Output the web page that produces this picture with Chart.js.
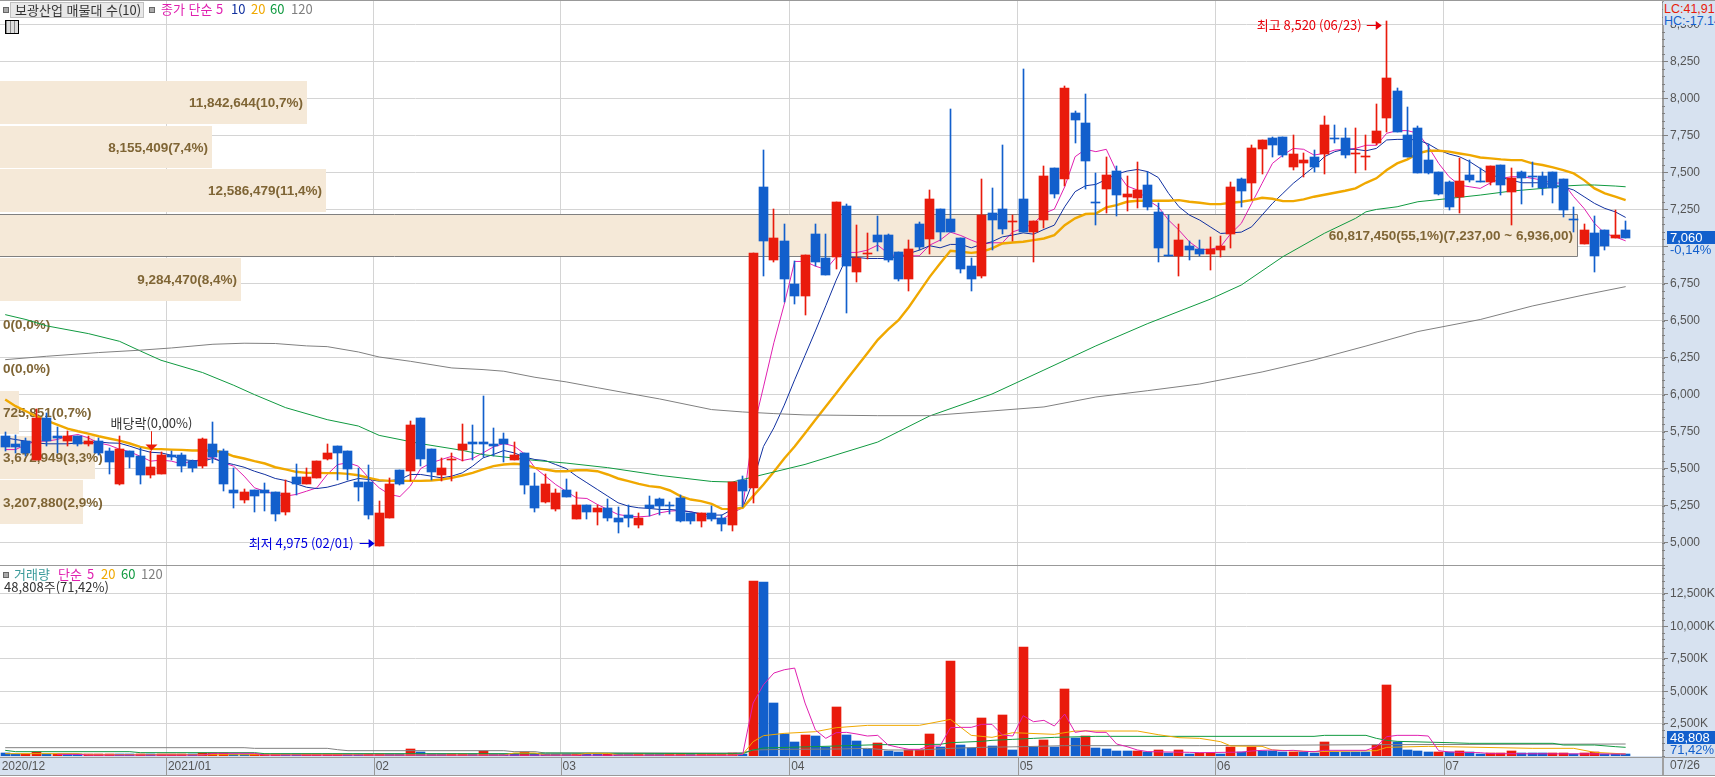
<!DOCTYPE html>
<html lang="ko">
<head>
<meta charset="utf-8">
<title>보광산업</title>
<script src="https://cdn.jsdelivr.net/npm/chart.js@4"></script>
<style>
html, body { margin: 0; padding: 0; background: #fff; overflow: hidden; width: 1715px; height: 777px; }
canvas { position: absolute; left: 0; }
#priceChart { top: 0; }
#volChart { top: 566px; }
.t { position: absolute; white-space: pre; font: 13px "Noto Sans CJK KR", sans-serif; line-height: 14px; }
.sq { position: absolute; width: 4px; height: 4px; background: #aaa; border: 1px solid #666; }
#stockName { left: 10px; top: 2px; height: 14px; background: #e8e8e8; border: 1px solid #c0c0c0; color: #333; padding-left: 4px; width: 128px; }
#gridIcon { position: absolute; left: 5px; top: 20px; width: 12px; height: 12px; border: 1px solid #000;
  background: repeating-linear-gradient(90deg, #888 0 1px, #ddd 1px 4px), #ddd; }
#hiLo { position: absolute; left: 1663px; top: 2px; width: 52px; height: 23px; background: #d7e2f0; overflow: hidden; }
#hiLo div { position: absolute; left: 1px; font: 12.5px "Liberation Sans", sans-serif; line-height: 12px; white-space: pre; }
</style>
</head>
<body>
<canvas id="priceChart" width="1715" height="566"></canvas>
<canvas id="volChart" width="1715" height="211"></canvas>

<div class="sq" style="left:3px;top:7px"></div>
<div class="t" id="stockName">보광산업 매물대 수(10)</div>
<div class="sq" style="left:149px;top:7px"></div>
<div class="t" style="left:161px;top:2px;color:#e020b0">종가 단순</div>
<div class="t" style="left:216px;top:2px;color:#e020b0">5</div>
<div class="t" style="left:231px;top:2px;color:#1030a0">10</div>
<div class="t" style="left:251px;top:2px;color:#f0a800">20</div>
<div class="t" style="left:270px;top:2px;color:#109a40">60</div>
<div class="t" style="left:291px;top:2px;color:#808080">120</div>
<div id="gridIcon"></div>

<div id="hiLo">
  <div style="top:1px;color:#e81c0a">LC:41,91</div>
  <div style="top:13px;color:#1460cc">HC:-17,14</div>
</div>

<div class="sq" style="left:3px;top:572px"></div>
<div class="t" style="left:14px;top:567px;color:#3a9a9a">거래량</div>
<div class="t" style="left:58px;top:567px;color:#e020b0">단순</div>
<div class="t" style="left:87px;top:567px;color:#e020b0">5</div>
<div class="t" style="left:101px;top:567px;color:#f0a800">20</div>
<div class="t" style="left:121px;top:567px;color:#109a40">60</div>
<div class="t" style="left:141px;top:567px;color:#808080">120</div>
<div class="t" style="left:4px;top:580px;color:#333">48,808주(71,42%)</div>

<script>
const RED = '#e91b0c';
const BLUE = '#125fcc';
const GRID = '#d4d4d4';
const STRIP = '#d7e2f0';
const AXIS_FONT = { family: '"Liberation Sans", sans-serif', size: 12 };

// Slots on the time axis, a few stay empty on the right of the last candle
const slots = Array.from({ length: 160 }, (_, i) => i);
const monthStarts = [0, 16, 36, 54, 76, 98, 117, 139];
const monthLabels = ['2020/12', '2021/01', '02', '03', '04', '05', '06', '07'];
const lastDateLabel = '07/26';
const priceTicks = [5000,5250,5500,5750,6000,6250,6500,6750,7000,7250,7500,7750,8000,8250,8500];
const volumeTicks = [2500,5000,7500,10000,12500];

const opens = [
  5720,5670,5690,5560,5845,5720,5685,5720,5670,5690,
  5620,5395,5620,5585,5455,5465,5590,5590,5550,5520,
  5670,5620,5355,5290,5355,5355,5340,5205,5445,5395,
  5440,5565,5650,5620,5410,5410,4975,5170,5490,5485,
  5840,5630,5455,5560,5625,5680,5680,5670,5700,5560,
  5605,5380,5275,5225,5355,5160,5255,5205,5235,5165,
  5185,5120,5255,5295,5255,5300,5200,5145,5200,5165,
  5120,5425,5370,7400,6910,7035,6750,6665,7085,6920,
  6930,7275,6825,6950,7075,7075,6960,6780,7150,7050,
  7250,7185,7055,6865,6800,7225,7250,7165,7320,7095,
  7180,7530,7455,7900,7835,7300,7390,7510,7335,7325,
  7415,7230,6940,6935,7000,6980,6950,6975,7085,7455,
  7430,7660,7730,7740,7535,7565,7605,7625,7730,7730,
  7625,7605,7700,7865,8050,7750,7800,7585,7500,7435,
  7335,7480,7440,7435,7550,7365,7500,7475,7475,7500,
  7455,7185,7015,7090,7110,7055,7110
];
const highs = [
  5750,5730,5710,5905,5875,5780,5755,5720,5720,5710,
  5640,5720,5620,5640,5620,5610,5620,5605,5560,5710,
  5815,5630,5505,5360,5355,5405,5340,5425,5530,5505,
  5550,5670,5650,5620,5505,5525,5280,5440,5490,5825,
  5840,5630,5570,5605,5800,5795,5990,5775,5740,5680,
  5605,5470,5465,5360,5430,5340,5255,5255,5295,5240,
  5255,5200,5315,5300,5275,5320,5200,5200,5245,5185,
  5410,5450,6955,7650,7250,7150,6900,6940,7150,7085,
  7300,7285,7145,7090,7205,7085,6960,7045,7165,7380,
  7250,7930,7055,6920,7455,7395,7685,7210,8200,7170,
  7545,7530,8085,7915,8030,7495,7605,7545,7475,7570,
  7500,7295,7210,7150,7035,7045,7065,7070,7435,7460,
  7685,7720,7740,7740,7750,7630,7650,7880,7820,7800,
  7800,7750,7960,8520,8070,7940,7815,7690,7500,7440,
  7595,7585,7530,7545,7550,7530,7510,7570,7500,7500,
  7455,7265,7150,7205,7110,7245,7170
];
const lows = [
  5620,5605,5585,5560,5650,5605,5650,5650,5650,5590,
  5465,5390,5505,5400,5440,5465,5560,5480,5480,5505,
  5540,5350,5235,5270,5210,5215,5145,5185,5325,5395,
  5440,5560,5425,5425,5280,5160,4975,5170,5390,5415,
  5515,5425,5415,5420,5555,5560,5580,5585,5545,5560,
  5330,5205,5270,5215,5310,5160,5160,5120,5145,5065,
  5105,5100,5180,5185,5195,5140,5125,5105,5145,5080,
  5080,5240,5270,6800,6895,6625,6610,6535,6870,6805,
  6845,6550,6760,6915,6970,6895,6765,6700,6975,6950,
  7035,7095,6820,6700,6785,6975,7085,7035,7095,6895,
  7125,7325,7410,7700,7390,7145,7225,7205,7240,7260,
  7245,6895,6935,6800,6910,6935,6840,6930,6990,7265,
  7315,7490,7605,7605,7515,7470,7500,7490,7700,7595,
  7495,7515,7685,7775,7775,7605,7495,7490,7345,7245,
  7225,7435,7435,7415,7345,7145,7285,7400,7345,7295,
  7200,7095,7015,6825,6975,7055,7060
];
const closes = [
  5645,5645,5605,5845,5690,5705,5720,5670,5690,5605,
  5545,5630,5580,5455,5510,5590,5580,5520,5505,5700,
  5580,5400,5335,5340,5315,5335,5195,5335,5400,5445,
  5550,5605,5605,5500,5375,5185,5200,5395,5395,5795,
  5565,5480,5505,5565,5670,5665,5665,5650,5670,5590,
  5390,5235,5400,5335,5310,5255,5205,5235,5165,5140,
  5165,5165,5235,5245,5245,5145,5145,5200,5160,5125,
  5410,5350,6955,7035,7055,6780,6665,6940,6895,6805,
  7300,6865,6920,6955,7030,6910,6780,6980,6995,7320,
  7095,7095,6845,6780,7210,7180,7115,7170,7095,7170,
  7475,7355,8070,7855,7575,7295,7480,7345,7355,7380,
  7265,6990,6935,7045,6975,6950,6980,7000,7400,7375,
  7665,7720,7685,7615,7625,7585,7535,7820,7725,7615,
  7630,7610,7780,8135,7775,7605,7495,7495,7355,7265,
  7440,7450,7435,7545,7415,7460,7460,7470,7395,7395,
  7245,7180,7110,6935,7000,7075,7060
];

const ma5 = [
  5629,5629,5663,5686,5686,5697,5719,5731,5708,5674,
  5659,5632,5614,5584,5551,5558,5551,5533,5551,5562,
  5578,5540,5517,5450,5371,5348,5326,5315,5326,5348,
  5371,5461,5528,5540,5517,5438,5371,5326,5312,5382,
  5501,5540,5562,5584,5555,5569,5607,5647,5670,5652,
  5600,5506,5450,5393,5348,5303,5299,5259,5225,5191,
  5180,5175,5180,5202,5214,5218,5209,5191,5169,5157,
  5202,5236,5759,6052,6350,6610,6899,6899,6867,6845,
  6928,6960,6960,6975,7009,6953,6930,6937,6937,7009,
  7043,7097,7074,7043,7016,7025,7025,7099,7122,7156,
  7223,7252,7403,7606,7656,7640,7656,7505,7408,7381,
  7313,7268,7178,7110,7032,6980,6980,6998,7088,7156,
  7291,7426,7561,7617,7662,7656,7617,7629,7651,7656,
  7662,7683,7683,7764,7782,7782,7764,7674,7561,7471,
  7414,7403,7392,7430,7460,7471,7471,7460,7448,7426,
  7430,7336,7257,7156,7088,7065,7038
];
const ma10 = [
  5708,5697,5686,5674,5668,5668,5668,5674,5674,5681,
  5674,5672,5652,5629,5611,5607,5591,5562,5555,5551,
  5569,5544,5528,5510,5483,5461,5434,5420,5398,5375,
  5366,5375,5393,5416,5434,5427,5416,5420,5427,5461,
  5461,5450,5438,5450,5472,5517,5573,5596,5623,5607,
  5578,5562,5555,5528,5501,5450,5405,5360,5315,5270,
  5247,5236,5232,5225,5225,5218,5209,5196,5187,5187,
  5225,5236,5416,5650,5776,5929,6100,6265,6430,6600,
  6773,6926,6926,6919,6919,6919,6930,6953,6975,7005,
  6991,7014,7014,6991,7014,7032,7065,7077,7092,7083,
  7115,7144,7268,7370,7410,7419,7453,7489,7509,7520,
  7505,7466,7358,7268,7212,7178,7133,7088,7092,7097,
  7133,7212,7291,7358,7426,7482,7538,7606,7640,7656,
  7656,7646,7662,7719,7723,7723,7719,7692,7651,7624,
  7606,7572,7527,7482,7466,7448,7430,7430,7430,7414,
  7403,7381,7336,7291,7257,7234,7196
];
const ma20 = [
  5967,5922,5888,5854,5825,5798,5771,5753,5737,5719,
  5704,5690,5670,5647,5634,5632,5629,5627,5623,5623,
  5623,5611,5584,5569,5551,5535,5510,5495,5479,5472,
  5472,5470,5470,5465,5456,5438,5423,5418,5418,5418,
  5418,5420,5427,5438,5454,5472,5495,5517,5528,5533,
  5528,5506,5495,5483,5483,5490,5490,5483,5461,5434,
  5416,5398,5382,5375,5353,5315,5292,5281,5263,5229,
  5227,5236,5315,5393,5479,5569,5650,5740,5830,5920,
  6010,6100,6190,6280,6370,6440,6502,6592,6694,6795,
  6885,6971,6964,6957,6964,6987,7020,7027,7032,7043,
  7054,7077,7144,7190,7219,7223,7264,7279,7302,7309,
  7309,7309,7309,7313,7302,7295,7286,7286,7295,7302,
  7313,7329,7322,7306,7306,7318,7336,7349,7363,7376,
  7392,7430,7460,7516,7561,7588,7628,7646,7646,7640,
  7628,7617,7601,7595,7588,7583,7583,7561,7550,7534,
  7516,7493,7448,7392,7358,7336,7313
];
const ma60Days = [1,3,5,9,12,14,16,20,23,25,28,32,35,37,41,45,47,52,55,59,64,69,71,73,78,85,90,96,101,106,111,117,120,124,128,131,132,133,135,137,140,143,146,149,151,153,154,156,157];
const ma60 = [6540,6507,6464,6412,6360,6295,6232,6149,6063,6000,5912,5831,5788,5725,5669,5624,5595,5556,5538,5507,5455,5414,5410,5444,5529,5680,5856,6004,6166,6329,6480,6644,6740,6931,7089,7190,7234,7250,7268,7302,7324,7347,7374,7392,7408,7415,7415,7408,7403];
const ma120Days = [1,5,10,14,17,21,24,27,30,32,35,37,40,44,47,49,52,55,58,62,64,69,72,75,78,85,90,96,101,106,111,116,122,127,132,137,143,148,153,157];
const ma120 = [6236,6259,6284,6300,6315,6340,6347,6345,6329,6324,6288,6254,6225,6180,6169,6158,6117,6086,6047,5996,5971,5899,5883,5872,5863,5858,5858,5890,5917,5984,6027,6072,6153,6234,6328,6426,6507,6598,6673,6729];

const volumes = [
  205,130,140,310,130,150,110,100,110,115,
  120,100,95,110,100,110,115,120,100,230,
  240,250,120,110,120,125,130,110,100,110,
  115,120,125,110,100,150,160,100,95,514,
  283,150,140,160,165,100,385,150,140,120,
  308,150,140,130,100,110,100,95,110,90,
  85,95,90,85,95,100,90,95,100,105,
  205,130,13490,13415,4086,1722,1079,1619,1542,720,
  3778,1619,1156,540,1002,385,308,462,470,1696,
  694,7325,848,617,2930,771,3161,463,8404,694,
  1234,694,5166,1388,1542,617,540,385,375,400,
  308,462,231,462,154,200,230,190,694,283,
  694,385,375,308,320,308,231,1079,308,300,
  295,290,848,5474,1079,462,385,308,320,308,
  385,308,154,231,240,385,231,220,210,240,
  250,128,231,308,154,120,48.808
];
const volMa5Days = [6,8,9,20,21,25,26,71,72,73,74,75,76,77,78,79,80,81,82,83,84,85,86,87,88,89,90,91,92,93,94,95,96,97,98,99,100,101,102,103,104,105,106,107,108,109,110,111,115,116,120,121,122,123,124,125,126,127,128,132,133,134,135,137,138,139,140,141,143,144,157];
const volMa5 = [129,129,70,70,205,205,70,60,128,4086,5500,6400,6656,6785,4086,2005,1362,1799,1825,1696,1542,1593,848,668,514,514,771,771,2184,2210,2210,2441,2441,1619,1542,3110,2647,2750,2313,3238,1825,1953,1825,1825,925,720,463,334,283,257,300,385,437,462,411,437,360,334,437,437,720,1490,1593,1593,1542,411,308,283,257,180,154];
const volMa20Days = [1,8,9,35,36,49,50,52,53,56,57,59,60,71,72,73,74,76,79,81,84,89,92,94,96,98,102,104,110,112,114,116,118,119,122,123,127,133,134,138,148,152,154,157];
const volMa20 = [180,180,100,100,77,77,231,231,77,77,205,205,77,77,128,1105,1568,1747,1876,2184,2364,2364,2827,1593,1439,1799,1670,1927,1927,1645,1413,1362,1105,771,745,463,334,411,668,745,591,591,283,154];
const volMa60Days = [1,2,13,14,25,26,52,53,71,72,73,74,81,85,91,92,95,96,98,100,102,106,127,128,132,133,134,135,140,142,150,151,154,156,157];
const volMa60 = [437,334,334,257,257,180,180,231,180,180,463,617,771,874,900,1028,1130,1208,1285,1362,1439,1516,1516,1593,1593,1362,1208,1130,1028,977,977,848,848,720,668];
const volMa120Days = [1,24,25,32,33,34,49,50,52,53,71,72,73,76,81,84,86,89,92,95,99,103,116,133,157];
const volMa120 = [642,642,591,591,488,411,411,334,334,231,231,257,463,514,540,591,463,463,591,668,720,797,797,874,925];

// Volume profile bands, price range and traded volume of each
const profileHigh = [8117,7814,7524,7216,6923,6620,6322,6023,5721,5424];
const profileLow = [7828,7529,7230,6933,6632,6334,6035,5732,5431,5127];
const profileVol = [11842644,8155409,12586479,60817450,9284470,0,0,725851,3672949,3207880];
const profileText = ['11,842,644(10,7%)','8,155,409(7,4%)','12,586,479(11,4%)','60,817,450(55,1%)(7,237,00 ~ 6,936,00)','9,284,470(8,4%)','0(0,0%)','0(0,0%)','725,851(0,7%)','3,672,949(3,3%)','3,207,880(2,9%)'];

const priceLast = 7060;
const volumeBoxLevel = 1466; // the 48,808 box is held above the bars, readable

const sparse = (days, vals) => {
  const s = new Array(opens.length).fill(null);
  days.forEach((d, n) => { s[d - 1] = vals[n]; });
  return s;
};

const lineSet = (data, color, width) => ({
  type: 'line', data, borderColor: color, borderWidth: width, pointRadius: 0,
  tension: 0, spanGaps: true, order: 2
});

const monthGrid = ctx => (ctx.index > 0 && monthStarts.includes(ctx.index)) ? GRID : 'rgba(0,0,0,0)';

// Labels at the scale ends must not shrink the plot
const noPadding = s => {
  s.paddingTop = 0;
  s.paddingBottom = 0;
  s.paddingLeft = 0;
  s.paddingRight = 0;
};

// Put bars on whole pixels, the original is a bitmap chart without smoothing
const snapBars = {
  id: 'snapBars',
  afterDatasetsUpdate(chart) {
    chart.data.datasets.forEach((ds, i) => {
      if (ds.type === 'line') return;
      chart.getDatasetMeta(i).data.forEach(el => {
        el.x = Math.round(el.x - 0.5) + 0.5;
        el.y = Math.round(el.y);
        el.base = Math.round(el.base);
        if (el.y === el.base) el.base += 1;
      });
    });
  }
};

const minorTicks = (scale, step, ctx) => {
  ctx.strokeStyle = '#808080';
  ctx.lineWidth = 1;
  ctx.beginPath();
  for (let v = Math.ceil(scale.min / step) * step; v <= scale.max; v += step) {
    const y = Math.round(scale.getPixelForValue(v)) + 0.5;
    ctx.moveTo(scale.left, y);
    ctx.lineTo(scale.left + 3, y);
  }
  ctx.stroke();
};

const arrowHead = (ctx, x, y, size, color) => {
  ctx.fillStyle = color;
  ctx.beginPath();
  ctx.moveTo(x, y);
  ctx.lineTo(x - size, y - size * 0.75);
  ctx.lineTo(x - size, y + size * 0.75);
  ctx.closePath();
  ctx.fill();
};

const priceFrame = {
  id: 'priceFrame',
  beforeDraw(chart) {
    const { ctx, chartArea: a, width, height } = chart;
    ctx.fillStyle = STRIP;
    ctx.fillRect(a.right, 0, width - a.right, height);
  },
  // Bands sit under the candles and the moving averages
  beforeDatasetsDraw(chart) {
    const { ctx, chartArea: a, scales } = chart;
    const y = scales.y;
    const perShare = a.width * 0.949 / Math.max(...profileVol);
    ctx.save();
    ctx.font = 'bold 13.5px "Liberation Sans", sans-serif';
    ctx.textBaseline = 'middle';
    profileVol.forEach((vol, i) => {
      const top = Math.round(y.getPixelForValue(profileHigh[i]));
      const bottom = Math.round(y.getPixelForValue(profileLow[i]));
      const w = Math.round(vol * perShare);
      if (w > 0) {
        ctx.fillStyle = '#f5e9d8';
        ctx.fillRect(a.left, top, w, bottom - top);
      }
      if (vol === Math.max(...profileVol)) {
        ctx.strokeStyle = '#808080';
        ctx.lineWidth = 1;
        ctx.beginPath();
        ctx.moveTo(a.left, top + 0.5);
        ctx.lineTo(w + 0.5, top + 0.5);
        ctx.lineTo(w + 0.5, bottom + 0.5);
        ctx.lineTo(a.left, bottom + 0.5);
        ctx.stroke();
      }
      const tw = ctx.measureText(profileText[i]).width;
      ctx.fillStyle = '#7f6535';
      ctx.textAlign = 'left';
      ctx.fillText(profileText[i], tw + 8 < w ? w - tw - 4 : 3, (top + bottom) / 2 + 1);
    });
    ctx.restore();
  },
  afterDatasetsDraw(chart) {
    const { ctx, scales: { x, y } } = chart;
    ctx.save();
    ctx.font = '13px "Noto Sans CJK KR", sans-serif';
    ctx.textBaseline = 'middle';

    // highest price marker
    const hiX = x.getPixelForValue(highs.indexOf(Math.max(...highs))) - 5;
    const hiY = Math.round(y.getPixelForValue(8520)) + 4;
    ctx.fillStyle = '#e8000a';
    ctx.textAlign = 'right';
    ctx.fillText('최고 8,520 (06/23)', hiX - 20, hiY);
    ctx.fillRect(hiX - 15, hiY, 11, 1);
    arrowHead(ctx, hiX, hiY + 0.5, 6, '#e8000a');

    // lowest price marker
    const loX = x.getPixelForValue(lows.indexOf(Math.min(...lows))) - 4.5;
    const loY = Math.round(y.getPixelForValue(4975)) - 3;
    ctx.fillStyle = '#0000e0';
    ctx.fillText('최저 4,975 (02/01)', loX - 21, loY);
    ctx.fillRect(loX - 15, loY, 11, 1);
    arrowHead(ctx, loX, loY + 0.5, 6, '#0000e0');

    // ex-dividend marker
    const exX = Math.round(x.getPixelForValue(14)) + 0.5;
    const exTop = y.getPixelForValue(5753);
    const exTip = y.getPixelForValue(5623);
    ctx.fillStyle = '#333';
    ctx.textAlign = 'center';
    ctx.fillText('배당락(0,00%)', exX, exTop - 8);
    ctx.fillStyle = '#e81c0a';
    ctx.fillRect(exX - 0.5, exTop, 1, exTip - exTop);
    ctx.beginPath();
    ctx.moveTo(exX, exTip);
    ctx.lineTo(exX - 6, exTip - 6);
    ctx.lineTo(exX + 6, exTip - 6);
    ctx.closePath();
    ctx.fill();
    ctx.restore();
  },
  afterDraw(chart) {
    const { ctx, chartArea: a, scales: { y }, width, height } = chart;
    ctx.save();
    ctx.fillStyle = '#999';
    ctx.fillRect(0, 0, width, 1);
    ctx.fillRect(0, height - 1, a.right, 1);
    ctx.fillStyle = '#a0a0a0';
    ctx.fillRect(a.right, 0, 2, height);
    minorTicks(y, 50, ctx);

    const py = Math.round(y.getPixelForValue(priceLast));
    ctx.fillStyle = BLUE;
    ctx.fillRect(a.right + 5, py - 7, width - a.right - 5, 13);
    ctx.font = `13px ${AXIS_FONT.family}`;
    ctx.textBaseline = 'middle';
    ctx.fillStyle = '#fff';
    ctx.fillText(priceLast.toLocaleString('en-US'), a.right + 8, py);
    ctx.fillStyle = BLUE;
    ctx.fillText('-0,14%', a.right + 8, py + 12);
    ctx.restore();
  }
};

const volFrame = {
  id: 'volFrame',
  beforeDraw(chart) {
    const { ctx, chartArea: a, width, height } = chart;
    ctx.fillStyle = STRIP;
    ctx.fillRect(a.right, 0, width - a.right, height);
    ctx.fillRect(0, a.bottom, width, height - a.bottom);
    ctx.fillStyle = '#fff';
    ctx.fillRect(0, height - 2, width, 2);
  },
  afterDraw(chart) {
    const { ctx, chartArea: a, scales: { x, y }, width, height } = chart;
    ctx.save();
    ctx.fillStyle = '#999';
    ctx.fillRect(0, a.bottom + 1, width, 1);
    ctx.fillRect(0, height - 2, width, 1);
    monthStarts.forEach(m => {
      if (m > 0) ctx.fillRect(Math.round(x.getPixelForValue(m) - x.width / slots.length / 2), a.bottom + 1, 1, height - a.bottom - 3);
    });
    ctx.fillStyle = '#a0a0a0';
    ctx.fillRect(a.right, 0, 2, height - 2);
    minorTicks(y, 500, ctx);

    const py = Math.round(y.getPixelForValue(volumeBoxLevel));
    ctx.fillStyle = BLUE;
    ctx.fillRect(a.right + 5, py - 6, width - a.right - 5, 13);
    ctx.font = `13px ${AXIS_FONT.family}`;
    ctx.textBaseline = 'middle';
    ctx.fillStyle = '#fff';
    ctx.fillText('48,808', a.right + 8, py + 1);
    ctx.fillStyle = BLUE;
    ctx.fillText('71,42%', a.right + 8, py + 13);
    ctx.font = `${AXIS_FONT.size}px ${AXIS_FONT.family}`;
    ctx.fillStyle = '#555';
    ctx.fillText(lastDateLabel, a.right + 8, a.bottom + 10);
    ctx.restore();
  }
};

new Chart(document.getElementById('priceChart'), {
  type: 'bar',
  data: {
    labels: slots,
    datasets: [
      lineSet(sparse(ma120Days, ma120), '#808080', 1),
      lineSet(sparse(ma60Days, ma60), '#109a40', 1),
      lineSet(ma20, '#f0a800', 2.4),
      lineSet(ma10, '#1030a0', 1),
      lineSet(ma5, '#e020b0', 1),
      {
        data: opens.map((o, i) => [lows[i], highs[i]]),
        backgroundColor: opens.map((o, i) => closes[i] >= o ? RED : BLUE),
        barThickness: 1, grouped: false, order: 1
      },
      {
        data: opens.map((o, i) => [o, closes[i]]),
        backgroundColor: opens.map((o, i) => closes[i] >= o ? RED : BLUE),
        barThickness: 9, minBarLength: 1, grouped: false, order: 0
      }
    ]
  },
  options: {
    responsive: false, animation: false, events: [], devicePixelRatio: 1,
    layout: { padding: { top: 1, bottom: 1, left: 0, right: 0 } },
    plugins: { legend: { display: false }, tooltip: { enabled: false } },
    scales: {
      x: {
        type: 'category', offset: true,
        afterFit: s => { s.height = 0; noPadding(s); },
        ticks: { display: false, autoSkip: false },
        grid: { color: monthGrid, offset: true, drawTicks: false },
        border: { display: false }
      },
      y: {
        position: 'right', min: 4850, max: 8657,
        afterBuildTicks: s => { s.ticks = priceTicks.map(value => ({ value })); },
        afterFit: s => { s.width = 53; noPadding(s); },
        ticks: {
          padding: 2, color: '#555', font: AXIS_FONT,
          callback: v => v === 7000 ? '' : v.toLocaleString('en-US')
        },
        grid: { color: GRID, tickLength: 6, tickColor: '#808080' },
        border: { display: false }
      }
    }
  },
  plugins: [snapBars, priceFrame]
});

new Chart(document.getElementById('volChart'), {
  type: 'bar',
  data: {
    labels: slots,
    datasets: [
      {
        data: volumes,
        // red when volume rose on the previous day, blue otherwise
        backgroundColor: volumes.map((v, i) => (i > 0 && v > volumes[i - 1]) ? RED : BLUE),
        barThickness: 9, minBarLength: 2, order: 3
      },
      Object.assign(lineSet(sparse(volMa120Days, volMa120), '#808080', 1), { order: 2 }),
      Object.assign(lineSet(sparse(volMa60Days, volMa60), '#109a40', 1), { order: 1.5 }),
      Object.assign(lineSet(sparse(volMa20Days, volMa20), '#f0a800', 1), { order: 1 }),
      Object.assign(lineSet(sparse(volMa5Days, volMa5), '#e020b0', 1), { order: 0.5 })
    ]
  },
  options: {
    responsive: false, animation: false, events: [], devicePixelRatio: 1,
    layout: { padding: 0 },
    plugins: { legend: { display: false }, tooltip: { enabled: false } },
    scales: {
      x: {
        type: 'category', offset: true,
        afterFit: s => { s.height = 21; noPadding(s); },
        ticks: {
          autoSkip: false, maxRotation: 0, minRotation: 0, align: 'start', padding: 3,
          labelOffset: -3.5, color: '#555', font: AXIS_FONT,
          callback: (v, i) => {
            const m = monthStarts.indexOf(i);
            return m >= 0 ? monthLabels[m] : '';
          }
        },
        grid: { color: monthGrid, offset: true, drawTicks: false },
        border: { display: false }
      },
      y: {
        position: 'right', min: 0, max: 14660,
        afterBuildTicks: s => { s.ticks = volumeTicks.map(value => ({ value })); },
        afterFit: s => { s.width = 53; noPadding(s); },
        ticks: {
          padding: 2, color: '#555', font: AXIS_FONT,
          callback: v => v.toLocaleString('en-US') + 'K'
        },
        grid: { color: GRID, tickLength: 6, tickColor: '#808080' },
        border: { display: false }
      }
    }
  },
  plugins: [snapBars, volFrame]
});
</script>
</body>
</html>
